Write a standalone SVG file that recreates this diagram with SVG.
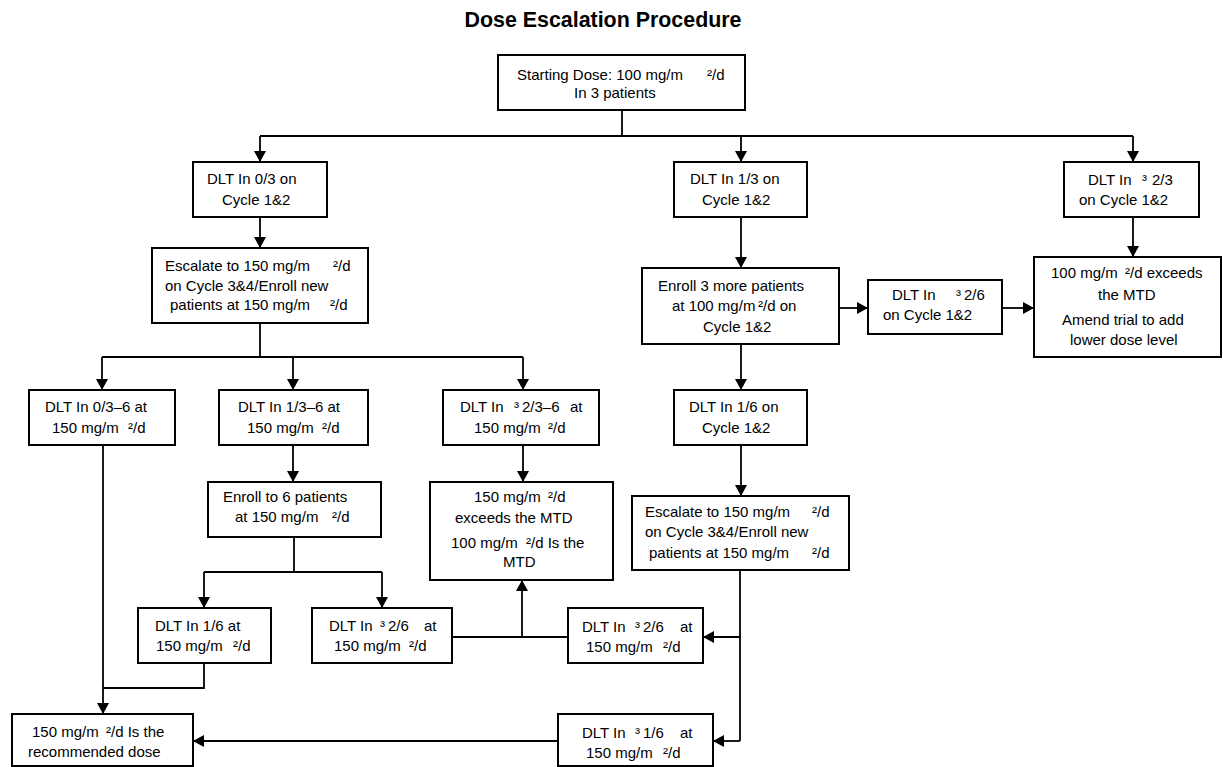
<svg xmlns="http://www.w3.org/2000/svg" width="1223" height="767" viewBox="0 0 1223 767">
<style>
.box{fill:#fff;stroke:#000;stroke-width:2}
.t{font-family:"Liberation Sans",Arial,sans-serif;font-size:15px;fill:#000;white-space:pre}
.title{font-family:"Liberation Sans",Arial,sans-serif;font-size:22px;font-weight:bold;fill:#000}
.c{fill:none;stroke:#000;stroke-width:1.8}
.a{marker-end:url(#ah)}
</style>
<defs>
<marker id="ah" viewBox="0 0 11 12" refX="11" refY="6" markerWidth="11" markerHeight="12" markerUnits="userSpaceOnUse" orient="auto">
<path d="M0,0 L11,6 L0,12 z" fill="#000"/>
</marker>
</defs>
<rect width="1223" height="767" fill="#fff"/>
<text class="title" x="603" y="27" text-anchor="middle" textLength="277" lengthAdjust="spacingAndGlyphs">Dose Escalation Procedure</text>

<g id="connectors">
<path class="c" d="M622,110 V136"/>
<path class="c" d="M260,136 H1133"/>
<path class="c a" d="M260,136 V162"/>
<path class="c a" d="M741,136 V162"/>
<path class="c a" d="M1133,136 V162"/>
<path class="c a" d="M260,217 V248"/>
<path class="c a" d="M741,217 V268"/>
<path class="c a" d="M1133,217 V257"/>
<path class="c a" d="M839,308 H868"/>
<path class="c a" d="M1002,308 H1034"/>
<path class="c a" d="M741,344 V390"/>
<path class="c a" d="M741,445 V496"/>
<path class="c" d="M260,323 V357"/>
<path class="c" d="M102,357 H523"/>
<path class="c a" d="M102,357 V390"/>
<path class="c a" d="M293,357 V390"/>
<path class="c a" d="M523,357 V390"/>
<path class="c a" d="M293,445 V482"/>
<path class="c a" d="M523,445 V482"/>
<path class="c" d="M294,537 V572"/>
<path class="c" d="M204,572 H382"/>
<path class="c a" d="M204,572 V608"/>
<path class="c a" d="M382,572 V608"/>
<path class="c" d="M204,663 V688 H103"/>
<path class="c a" d="M103,445 V714"/>
<path class="c" d="M740,570 V741"/>
<path class="c a" d="M740,637 H703"/>
<path class="c a" d="M740,741 H713"/>
<path class="c" d="M568,637 H452"/>
<path class="c a" d="M522,637 V580"/>
<path class="c a" d="M558,741 H193"/>
</g>

<g id="start">
<rect class="box" x="498" y="55" width="247" height="55"/>
<text class="t" x="517" y="80">Starting Dose: 100 mg/m<tspan x="707">²/d</tspan></text>
<text class="t" x="574" y="98">In 3 patients</text>
</g>

<g id="dlt03">
<rect class="box" x="193" y="162" width="134" height="55"/>
<text class="t" x="207" y="184">DLT In 0/3 on</text>
<text class="t" x="222" y="205">Cycle 1&amp;2</text>
</g>

<g id="dlt13">
<rect class="box" x="674" y="162" width="133" height="55"/>
<text class="t" x="690" y="184">DLT In 1/3 on</text>
<text class="t" x="702" y="205">Cycle 1&amp;2</text>
</g>

<g id="dlt23">
<rect class="box" x="1064" y="162" width="135" height="55"/>
<text class="t" x="1088" y="185">DLT In<tspan x="1142">³</tspan><tspan x="1152">2/3</tspan></text>
<text class="t" x="1079" y="205">on Cycle 1&amp;2</text>
</g>

<g id="escalateL">
<rect class="box" x="152" y="248" width="216" height="75"/>
<text class="t" x="165" y="271">Escalate to 150 mg/m<tspan x="333">²/d</tspan></text>
<text class="t" x="165" y="291">on Cycle 3&amp;4/Enroll new</text>
<text class="t" x="170" y="310">patients at 150 mg/m<tspan x="330">²/d</tspan></text>
</g>

<g id="enroll3">
<rect class="box" x="642" y="268" width="197" height="76"/>
<text class="t" x="658" y="291">Enroll 3 more patients</text>
<text class="t" x="672" y="311">at 100 mg/m<tspan x="758">²/d on</tspan></text>
<text class="t" x="703" y="332">Cycle 1&amp;2</text>
</g>

<g id="dlt26r">
<rect class="box" x="868" y="280" width="134" height="54"/>
<text class="t" x="892" y="300">DLT In<tspan x="956">³</tspan><tspan x="964">2/6</tspan></text>
<text class="t" x="883" y="320">on Cycle 1&amp;2</text>
</g>

<g id="exceeds100">
<rect class="box" x="1034" y="257" width="187" height="100"/>
<text class="t" x="1051" y="278">100 mg/m<tspan x="1125">²/d exceeds</tspan></text>
<text class="t" x="1098" y="300">the MTD</text>
<text class="t" x="1062" y="325">Amend trial to add</text>
<text class="t" x="1070" y="345">lower dose level</text>
</g>

<g id="dlt036">
<rect class="box" x="29" y="390" width="146" height="55"/>
<text class="t" x="45" y="412">DLT In 0/3–6 at</text>
<text class="t" x="52" y="433">150 mg/m<tspan x="128">²/d</tspan></text>
</g>

<g id="dlt136">
<rect class="box" x="219" y="390" width="149" height="55"/>
<text class="t" x="238" y="412">DLT In 1/3–6 at</text>
<text class="t" x="247" y="433">150 mg/m<tspan x="322">²/d</tspan></text>
</g>

<g id="enroll6">
<rect class="box" x="208" y="482" width="173" height="55"/>
<text class="t" x="223" y="502">Enroll to 6 patients</text>
<text class="t" x="235" y="522">at 150 mg/m<tspan x="332">²/d</tspan></text>
</g>

<g id="dlt236">
<rect class="box" x="443" y="390" width="156" height="55"/>
<text class="t" x="460" y="412">DLT In<tspan x="514">³</tspan><tspan x="522">2/3–6</tspan><tspan x="570">at</tspan></text>
<text class="t" x="474" y="433">150 mg/m<tspan x="548">²/d</tspan></text>
</g>

<g id="exceeds150">
<rect class="box" x="430" y="482" width="183" height="98"/>
<text class="t" x="474" y="502">150 mg/m<tspan x="548">²/d</tspan></text>
<text class="t" x="455" y="523">exceeds the MTD</text>
<text class="t" x="451" y="548">100 mg/m<tspan x="526">²/d Is the</tspan></text>
<text class="t" x="503" y="567">MTD</text>
</g>

<g id="dlt16on">
<rect class="box" x="674" y="390" width="133" height="55"/>
<text class="t" x="689" y="412">DLT In 1/6 on</text>
<text class="t" x="702" y="433">Cycle 1&amp;2</text>
</g>

<g id="escalateR">
<rect class="box" x="632" y="496" width="217" height="74"/>
<text class="t" x="645" y="517">Escalate to 150 mg/m<tspan x="812">²/d</tspan></text>
<text class="t" x="645" y="537">on Cycle 3&amp;4/Enroll new</text>
<text class="t" x="649" y="558">patients at 150 mg/m<tspan x="812">²/d</tspan></text>
</g>

<g id="dlt16at">
<rect class="box" x="138" y="608" width="133" height="55"/>
<text class="t" x="155" y="631">DLT In 1/6 at</text>
<text class="t" x="156" y="651">150 mg/m<tspan x="233">²/d</tspan></text>
</g>

<g id="dlt26l">
<rect class="box" x="312" y="608" width="140" height="55"/>
<text class="t" x="329" y="631">DLT In<tspan x="380">³</tspan><tspan x="388">2/6</tspan><tspan x="424">at</tspan></text>
<text class="t" x="334" y="651">150 mg/m<tspan x="409">²/d</tspan></text>
</g>

<g id="dlt26m">
<rect class="box" x="568" y="608" width="135" height="55"/>
<text class="t" x="582" y="632">DLT In<tspan x="635">³</tspan><tspan x="643">2/6</tspan><tspan x="680">at</tspan></text>
<text class="t" x="586" y="652">150 mg/m<tspan x="663">²/d</tspan></text>
</g>

<g id="dlt16ge">
<rect class="box" x="558" y="714" width="155" height="52"/>
<text class="t" x="582" y="738">DLT In<tspan x="635">³</tspan><tspan x="643">1/6</tspan><tspan x="680">at</tspan></text>
<text class="t" x="586" y="758">150 mg/m<tspan x="663">²/d</tspan></text>
</g>

<g id="recommended">
<rect class="box" x="12" y="714" width="181" height="52"/>
<text class="t" x="32" y="737">150 mg/m<tspan x="106">²/d Is the</tspan></text>
<text class="t" x="28" y="757">recommended dose</text>
</g>
</svg>
